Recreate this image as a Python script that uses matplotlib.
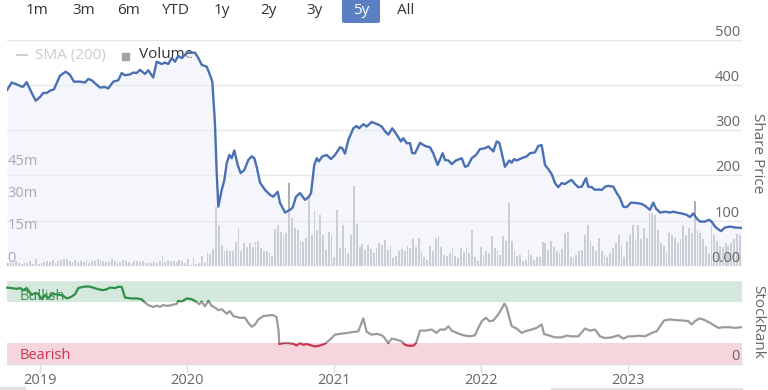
import numpy as np
import matplotlib
matplotlib.use('Agg')
import matplotlib.pyplot as plt
from matplotlib.patches import Rectangle, FancyBboxPatch
from matplotlib.lines import Line2D
import matplotlib.transforms as mtransforms

plt.rcParams['font.family'] = ['Open Sans', 'DejaVu Sans']

# ---------------- data ----------------
price_t = [2018.777, 2018.807, 2018.841, 2018.875, 2018.886, 2018.909, 2018.944, 2018.971, 2019.000,
           2019.022, 2019.046, 2019.068, 2019.095, 2019.114, 2019.136, 2019.175, 2019.204, 2019.231,
           2019.272, 2019.306, 2019.329, 2019.352, 2019.386, 2019.408, 2019.442, 2019.465, 2019.499,
           2019.533, 2019.556, 2019.579, 2019.613, 2019.635, 2019.658, 2019.681, 2019.715, 2019.737,
           2019.771, 2019.794, 2019.828, 2019.851, 2019.873, 2019.897, 2019.919, 2019.941, 2019.965,
           2019.999, 2020.010, 2020.055, 2020.078, 2020.101, 2020.135, 2020.157, 2020.173, 2020.191,
           2020.203, 2020.214, 2020.237, 2020.255, 2020.271, 2020.289, 2020.305, 2020.323, 2020.346,
           2020.366, 2020.391, 2020.418, 2020.441, 2020.459, 2020.475, 2020.498, 2020.532, 2020.566,
           2020.588, 2020.618, 2020.634, 2020.668, 2020.702, 2020.720, 2020.743, 2020.770, 2020.804,
           2020.831, 2020.845, 2020.867, 2020.884, 2020.899, 2020.922, 2020.952, 2020.981, 2021.008,
           2021.042, 2021.058, 2021.076, 2021.099, 2021.133, 2021.156, 2021.172, 2021.201, 2021.224,
           2021.258, 2021.303, 2021.326, 2021.349, 2021.371, 2021.398, 2021.428, 2021.457, 2021.473,
           2021.496, 2021.519, 2021.534, 2021.553, 2021.587, 2021.621, 2021.655, 2021.677, 2021.707,
           2021.741, 2021.757, 2021.780, 2021.803, 2021.832, 2021.871, 2021.893, 2021.912, 2021.939,
           2021.968, 2021.995, 2022.029, 2022.052, 2022.086, 2022.109, 2022.127, 2022.165, 2022.195,
           2022.211, 2022.227, 2022.245, 2022.279, 2022.313, 2022.336, 2022.370, 2022.392, 2022.415,
           2022.438, 2022.460, 2022.483, 2022.506, 2022.528, 2022.551, 2022.574, 2022.596, 2022.619,
           2022.642, 2022.664, 2022.688, 2022.717, 2022.732, 2022.756, 2022.778, 2022.801, 2022.824,
           2022.846, 2022.869, 2022.903, 2022.926, 2022.948, 2022.971, 2022.994, 2023.023, 2023.062,
           2023.096, 2023.118, 2023.152, 2023.175, 2023.193, 2023.221, 2023.255, 2023.289, 2023.311,
           2023.334, 2023.368, 2023.402, 2023.425, 2023.447, 2023.470, 2023.493, 2023.527, 2023.554,
           2023.572, 2023.595, 2023.617, 2023.636, 2023.663, 2023.697, 2023.731, 2023.777]
price = [389, 405, 401, 396, 396, 406, 382, 365, 373,
         382, 382, 387, 390, 404, 420, 429, 422, 407,
         407, 405, 413, 410, 400, 394, 395, 392, 407,
         410, 426, 421, 423, 427, 426, 433, 424, 432,
         416, 451, 446, 449, 446, 459, 451, 464, 459,
         470, 471, 471, 459, 444, 440, 422, 407, 315,
         205, 131, 168, 190, 227, 245, 238, 255, 223,
         205, 212, 234, 242, 238, 219, 184, 168, 157,
         153, 164, 139, 118, 124, 129, 153, 161, 146,
         153, 161, 223, 238, 231, 242, 245, 236, 245,
         262, 260, 248, 278, 304, 309, 304, 313, 308,
         318, 312, 308, 297, 290, 304, 290, 275, 282,
         271, 271, 249, 249, 272, 265, 262, 249, 223,
         249, 234, 233, 225, 233, 238, 219, 221, 238,
         245, 258, 260, 264, 253, 275, 272, 219, 233,
         228, 236, 233, 238, 242, 249, 251, 265, 267,
         223, 214, 203, 183, 174, 183, 181, 186, 190,
         181, 174, 175, 194, 175, 174, 168, 169, 168,
         175, 177, 175, 161, 150, 131, 130, 140, 139,
         137, 133, 124, 140, 127, 118, 120, 118, 120,
         118, 116, 113, 108, 116, 105, 98, 98, 102,
         98, 87, 81, 77, 85, 87, 85, 84]

# weekly volume, millions of shares
vol_start = 2018.780
vol = [1.5, 2.0, 1.2, 2.2, 1.5, 1.0, 1.8, 1.2, 2.5, 1.0,
       3.2, 1.0, 1.5, 2.0, 2.5, 2.0, 2.8, 1.5, 2.2, 3.0,
       3.4, 3.2, 2.5, 2.0, 2.8, 1.8, 2.5, 2.0, 2.8, 1.5,
       2.2, 2.5, 3.3, 2.8, 2.2, 1.8, 2.0, 3.1, 2.4, 1.6,
       2.0, 2.8, 2.5, 2.0, 1.5, 2.2, 2.5, 1.8, 2.2, 1.5,
       2.0, 1.5, 2.0, 1.2, 2.5, 4.6, 2.0, 3.0, 2.2, 2.5,
       1.8, 2.6, 2.2, 1.5, 3.2, 0.6, 3.6, 1.0, 1.6, 4.6,
       1.2, 5.9, 5.5, 7.8,
       27.6,
       19, 9.8, 7.1, 7.4, 7.1, 7.1, 11, 17.5, 7.1, 10.5,
       9, 10.5, 9, 11, 11.6, 8.5, 7.1, 7.1, 5.9, 4.7,
       17.2, 19, 16, 14.5, 15.3, 38.4, 22.2, 17.5, 16.7, 11.6,
       11, 13, 33, 14.5, 25.7, 16.7, 23.6, 14.5, 7.4, 16,
       14.5, 4.3, 26, 8.5, 19, 8.5, 5.9, 14.5, 37.2, 19.6,
       9, 10.2, 7.4, 9.8,
       7.8, 5.9, 8.5, 10.9, 9.8, 11.9, 7.4, 9.5, 3.6, 4.6,
       7.1, 7.8, 7.1, 9.2, 8.5, 12.4, 9, 13.2, 7.1, 4.3,
       3, 9.5, 7.1, 13, 13.8, 9, 5.1, 4.6, 5.9, 8.5,
       4.6, 3.6, 8.5, 6.6, 9, 5.9, 16.7, 4.3, 2.5, 9,
       5.1, 7.1, 5.9, 13.8, 8.5, 7.1, 5.1, 13.8, 11.6, 29.1,
       11.6, 7.1, 4.6, 5.1, 2.5, 3, 7.4, 5.1, 3, 4.3,
       4.3, 11, 10.9, 7.4, 11.6, 9, 7.1,
       5.9, 7.8, 15.2, 16, 4.3, 3.6, 5.1, 7.1, 7.4, 14.5,
       19, 11.6, 9.5, 7.1, 13.2, 7.1, 5.1, 4, 5.9, 8.5,
       10.5, 14.5, 9.8, 4.3, 11.6, 14.5, 19, 12.4, 19, 12.4,
       17.5, 13.2, 24.8, 24.8, 23.6, 16.7, 10.5, 9.5, 5.9, 15.2,
       14.5, 13.2, 10.9, 12.4, 19, 14.5, 17.5, 15.5, 30.2, 16.7,
       15.2, 12.4, 9.5, 5.9, 19, 14.5, 11.6, 9.5, 9, 10.5,
       9.5, 10.9, 12.4, 14.8, 14.5]

rank_t = [2018.777, 2018.807, 2018.841, 2018.864, 2018.886, 2018.909, 2018.944, 2018.966, 2018.988,
          2019.012, 2019.034, 2019.056, 2019.080, 2019.102, 2019.136, 2019.159, 2019.182, 2019.209,
          2019.238, 2019.261, 2019.295, 2019.329, 2019.363, 2019.397, 2019.431, 2019.454, 2019.477,
          2019.511, 2019.533, 2019.556, 2019.579, 2019.624, 2019.658, 2019.692, 2019.715, 2019.737,
          2019.771, 2019.794, 2019.817, 2019.839, 2019.862, 2019.885, 2019.907, 2019.931, 2019.941,
          2019.965, 2019.999, 2020.033, 2020.055, 2020.084, 2020.101, 2020.123, 2020.146, 2020.169,
          2020.191, 2020.214, 2020.237, 2020.271, 2020.293, 2020.316, 2020.361, 2020.395, 2020.418,
          2020.441, 2020.464, 2020.486, 2020.520, 2020.554, 2020.588, 2020.611, 2020.624, 2020.629,
          2020.656, 2020.690, 2020.724, 2020.747, 2020.770, 2020.792, 2020.816, 2020.850, 2020.872,
          2020.906, 2020.940, 2020.974, 2021.008, 2021.042, 2021.088, 2021.133, 2021.167, 2021.201,
          2021.224, 2021.258, 2021.292, 2021.315, 2021.337, 2021.371, 2021.394, 2021.428, 2021.462,
          2021.485, 2021.507, 2021.541, 2021.560, 2021.587, 2021.621, 2021.666, 2021.700, 2021.723,
          2021.757, 2021.780, 2021.803, 2021.837, 2021.882, 2021.927, 2021.961, 2021.984, 2022.007,
          2022.036, 2022.059, 2022.086, 2022.120, 2022.143, 2022.161, 2022.177, 2022.195, 2022.211,
          2022.245, 2022.279, 2022.302, 2022.347, 2022.381, 2022.415, 2022.431, 2022.460, 2022.506,
          2022.551, 2022.585, 2022.619, 2022.664, 2022.710, 2022.744, 2022.778, 2022.812, 2022.846,
          2022.892, 2022.937, 2022.971, 2023.005, 2023.039, 2023.073, 2023.118, 2023.164, 2023.198,
          2023.248, 2023.289, 2023.334, 2023.379, 2023.413, 2023.436, 2023.459, 2023.488, 2023.515,
          2023.561, 2023.617, 2023.651, 2023.697, 2023.731, 2023.772]
rank = [92, 91.5, 90.5, 91.5, 89, 91.5, 83.3, 85.5, 84.5,
        78, 83.3, 79, 84, 84, 83.3, 82, 79, 80.5,
        84, 91.5, 93, 93.5, 92, 90, 89, 90, 92,
        91.5, 93, 93, 80, 79, 79, 78, 74, 71,
        68.7, 70.3, 69, 71, 70, 70.5, 71.5, 72.4, 76,
        75.2, 79, 78, 76, 72, 75.2, 69.5, 76, 70,
        68, 64.8, 66, 60.6, 63.8, 57.7, 55.7, 55.7, 49.6,
        44.8, 47.6, 53.7, 57.7, 58.5, 58.9, 56.5, 40, 24,
        25.2, 25.2, 24.4, 22.3, 25.2, 23.2, 24, 22.3, 21.1,
        22.3, 24.4, 29.3, 35.4, 36.2, 37.4, 38.6, 39.4, 54.9,
        38.6, 35.4, 36.2, 35.4, 33.3, 25.2, 30.5, 29.3, 27.2,
        23.2, 22, 22, 25.2, 40.2, 40.2, 41.5, 37.4, 41.5,
        41.5, 45.5, 40.2, 37.4, 34.6, 33.3, 34.6, 43.5, 51.6,
        55.7, 51.6, 52.4, 59.8, 66.7, 72.8, 67.9, 55.7, 45.5,
        42.7, 37.4, 39.4, 41.5, 43.5, 47.6, 36.2, 34.6, 32.1,
        32.1, 34.2, 33.3, 33.3, 42.7, 40.2, 41.5, 33.3, 31.3,
        32.1, 34.6, 30.5, 33.3, 33.3, 34.2, 33.3, 37.4, 39.4,
        52.4, 53.7, 52.8, 52.4, 51.6, 47.6, 51.6, 54.9, 53.7,
        49.6, 43.5, 44.3, 44.3, 43.5, 44.3]

years = [2019, 2020, 2021, 2022, 2023]
price_ticks = [0, 100, 200, 300, 400, 500]
price_labels = ['0.00', '100', '200', '300', '400', '500']
vol_ticks = [0, 15, 30, 45]
vol_labels = ['0', '15m', '30m', '45m']
buttons = ['1m', '3m', '6m', 'YTD', '1y', '2y', '3y', '5y', 'All']
selected = '5y'
bullish_band = (75, 100)
bearish_band = (0, 25)

# ---------------- layout helpers ----------------
W, H = 768, 390
fig = plt.figure(figsize=(W / 100, H / 100), dpi=100)


def rect(x0, y0, x1, y1):
    return [x0 / W, 1 - y1 / H, (x1 - x0) / W, (y1 - y0) / H]


def fx(x):
    return x / W


def fy(y):
    return 1 - y / H


XMIN, XMAX = 2018.7754, 2023.7788
LBL = '#666666'

# ---------------- volume (bottom layer) ----------------
pos_main = rect(7, 39.5, 742, 266)
axv = fig.add_axes(pos_main)
axv.set_zorder(1)
axv.set_xlim(XMIN, XMAX)
axv.set_ylim(0, 105.3)
axv.axis('off')

ax = fig.add_axes(pos_main)
ax.set_zorder(2)
ax.patch.set_alpha(0)
ax.set_xlim(XMIN, XMAX)
ax.set_ylim(0, 500)
ax.axis('off')

# grid lines (price axis) drawn on the bottom layer
for p in price_ticks:
    axv.add_line(Line2D([0, 1], [p, p], transform=ax.get_yaxis_transform(),
                        color='#e6e6e6', lw=1.0, zorder=0))

vol_t = vol_start + np.arange(len(vol)) * 7 / 365.25
axv.bar(vol_t, vol, width=0.0125, color='#adadb3', linewidth=0, zorder=1)

# price area + line
ax.fill_between(price_t, price, 0, color='#ebeff9', alpha=0.5, linewidth=0, zorder=1)
ax.plot(price_t, price, color='#4a70b4', lw=1.7, zorder=3, solid_joinstyle='round')

# price labels (right, above grid lines)
tr_p = mtransforms.offset_copy(ax.get_yaxis_transform(), fig=fig, x=0, y=7.5, units='dots')
for p, s in zip(price_ticks, price_labels):
    ax.text(0.9973, p, s, transform=tr_p, ha='right', va='center', fontsize=10.5, color=LBL)

# volume labels (left)
tr_v = mtransforms.offset_copy(axv.get_yaxis_transform(), fig=fig, x=0, y=8, units='dots')
for v, s in zip(vol_ticks, vol_labels):
    axv.text(0.0005, v, s, transform=tr_v, ha='left', va='center', fontsize=10.5, color=LBL)

# ---------------- StockRank panel ----------------
axr = fig.add_axes(rect(7, 281, 742, 364))
axr.set_xlim(XMIN, XMAX)
axr.set_ylim(0, 100)
axr.axis('off')
axr.axhspan(bullish_band[0], bullish_band[1], color='#d5e8dc', lw=0, zorder=0)
axr.axhspan(bearish_band[0], bearish_band[1], color='#f5d6dc', lw=0, zorder=0)
axr.add_line(Line2D([0, 1], [1, 1], transform=axr.transAxes, color='#e6e6e6', lw=1, zorder=1))
axr.add_line(Line2D([0, 1], [0, 0], transform=axr.transAxes, color='#dcdcdc', lw=1, zorder=1,
                    clip_on=False))

zones = [(-50, bearish_band[1], '#cf3350'),
         (bearish_band[1], bullish_band[0], '#9b9b9b'),
         (bullish_band[0], 150, '#2f8f48')]
for lo, hi, col in zones:
    ln, = axr.plot(rank_t, rank, color=col, lw=1.6, zorder=3, solid_joinstyle='round')
    clip = Rectangle((XMIN - 1, lo), XMAX - XMIN + 2, hi - lo, transform=axr.transData)
    ln.set_clip_path(clip)

axr.text(0.0175, 0.81, 'Bullish', transform=axr.transAxes, ha='left', va='center',
         fontsize=10.5, color='#3f8f55', zorder=2)
axr.text(0.0175, 0.10, 'Bearish', transform=axr.transAxes, ha='left', va='center',
         fontsize=10.5, color='#cf3350', zorder=2)
tr_r = mtransforms.offset_copy(axr.get_yaxis_transform(), fig=fig, x=0, y=8, units='dots')
axr.text(0.9973, 0, '0', transform=tr_r, ha='right', va='center', fontsize=10.5, color=LBL)

# x axis ticks & labels
tick_tr = axr.get_xaxis_transform()
for yv in years:
    axr.add_line(Line2D([yv, yv], [0, -8 / 83], transform=tick_tr, color='#dcdcdc', lw=1,
                        clip_on=False))
    axr.text(yv, -17 / 83, str(yv), transform=tick_tr, ha='center', va='center',
             fontsize=10.5, color=LBL)

# ---------------- axis titles ----------------
fig.text(fx(757), fy(153), 'Share Price', rotation=-90, ha='center', va='center',
         fontsize=11, color='#666666')
fig.text(fx(758), fy(322), 'StockRank', rotation=-90, ha='center', va='center',
         fontsize=11, color='#666666')

# ---------------- legend ----------------
fig.add_artist(Line2D([fx(17), fx(27)], [fy(55), fy(55)], color='#cccccc', lw=1.3))
fig.text(fx(35), fy(55), 'SMA (200)', ha='left', va='center', fontsize=11, color='#cccccc')
fig.add_artist(Rectangle((fx(122), fy(60)), 7 / W, 7 / H, color='#a3a3a3', transform=fig.transFigure))
t_vol = fig.text(fx(139), fy(55), 'Volume', ha='left', va='center', fontsize=11, color='#333333')
t_vol.set_zorder(1.5)

# ---------------- range selector ----------------
btn_x = [37.5, 84, 129, 175, 221.5, 268.5, 314.5, 361, 406]
for b, x in zip(buttons, btn_x):
    if b == selected:
        fig.add_artist(FancyBboxPatch((fx(342), fy(23)), 38 / W, 26 / H,
                                      boxstyle='round,pad=0,rounding_size=0.004',
                                      transform=fig.transFigure, color='#5a7fc2', lw=0))
        fig.text(fx(x), fy(11), b, ha='center', va='center', fontsize=11, color='white')
    else:
        fig.text(fx(x), fy(11), b, ha='center', va='center', fontsize=11, color='#333333')

# navigator scrollbar remnants
fig.add_artist(Rectangle((0, 0), 25 / W, 3 / H, color='#e2e2e2', transform=fig.transFigure))
fig.add_artist(Rectangle((fx(551), 0), 191 / W, 2.5 / H, color='#e2e2e2', transform=fig.transFigure))

fig.savefig('out.png', dpi=100)
